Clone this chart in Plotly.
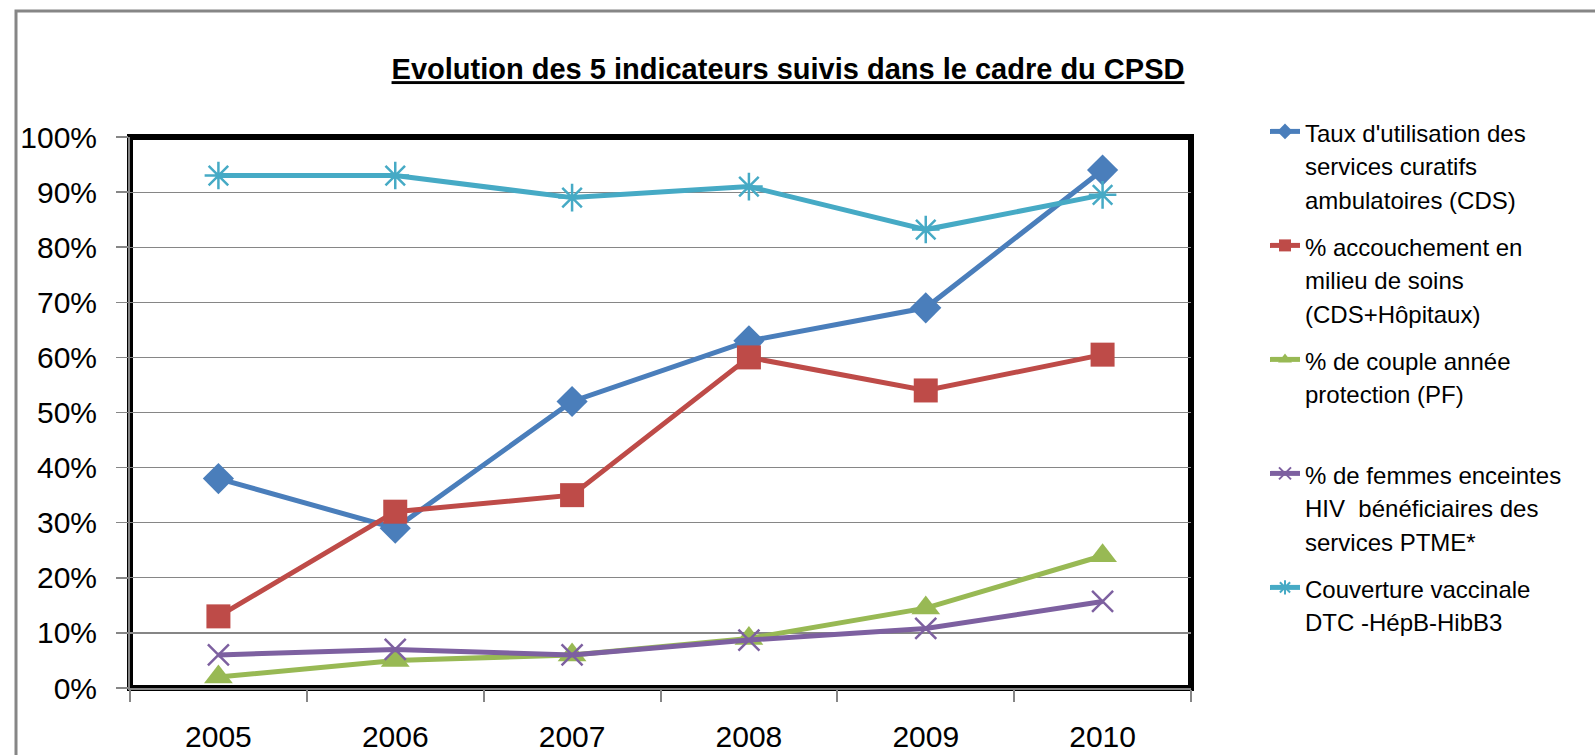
import plotly.graph_objects as go

# ---- data ----
years = ["2005", "2006", "2007", "2008", "2009", "2010"]
taux_utilisation = [0.38, 0.29, 0.52, 0.63, 0.69, 0.94]
accouchement = [0.13, 0.32, 0.35, 0.60, 0.54, 0.605]
couple_annee = [0.02, 0.05, 0.06, 0.09, 0.145, 0.24]
femmes_hiv = [0.06, 0.07, 0.06, 0.087, 0.108, 0.157]
couverture_vacc = [0.93, 0.93, 0.89, 0.91, 0.832, 0.895]

legend_lines = [
    ["Taux d'utilisation des", "services curatifs", "ambulatoires (CDS)"],
    ["% accouchement en", "milieu de soins", "(CDS+Hôpitaux)"],
    ["% de couple année", "protection (PF)"],
    ["% de femmes enceintes", "HIV  bénéficiaires des", "services PTME*"],
    ["Couverture vaccinale", "DTC -HépB-HibB3"],
]
title_text = "Evolution des 5 indicateurs suivis dans le cadre du CPSD"

# ---- layout geometry (pixels) ----
W, H = 1595, 755
PL, PR, PT, PB = 130, 1191, 137, 688
pw, ph = PR - PL, PB - PT


def px_x(x):
    return (x - PL) / pw


def px_y(y):
    return (PB - y) / ph


FONT_AX = "Liberation Sans, Arial, sans-serif"
FONT_LG = "Liberation Sans Narrow, Liberation Sans, Arial, sans-serif"

series = [
    (taux_utilisation, "#4A7EBB", "diamond", 24, 0),
    (accouchement, "#BE4B48", "square", 24, 0),
    (couple_annee, "#98B954", "triangle-up", 25, 0),
    (femmes_hiv, "#7D60A0", "x-thin-open", 21, 2.5),
    (couverture_vacc, "#46AAC5", "asterisk-open", 23, 2.5),
]

fig = go.Figure()
legend_ids = ["legend", "legend2", "legend3", "legend4", "legend5"]
for i, (vals, col, sym, size, mlw) in enumerate(series):
    name = "<br>".join(
        "<span style='font-size:24px'>%s</span>" % ln for ln in legend_lines[i]
    )
    marker = dict(symbol=sym, size=size, color=col)
    if mlw:
        marker["line"] = dict(width=mlw, color=col)
    else:
        marker["line"] = dict(width=0)
    fig.add_trace(
        go.Scatter(
            x=years,
            y=vals,
            mode="lines+markers",
            name=name,
            line=dict(color=col, width=5),
            marker=marker,
            legend=legend_ids[i],
            hoverinfo="skip",
        )
    )

first_line_centers = [129, 243, 357, 471, 585]
layout_legends = {}
for i, lid in enumerate(legend_ids):
    layout_legends[lid] = dict(
        x=px_x(1265),
        xanchor="left",
        y=px_y(first_line_centers[i] - 21),
        yanchor="top",
        valign="top",
        bgcolor="rgba(0,0,0,0)",
        borderwidth=0,
        font=dict(family=FONT_LG, size=26, color="#000000"),
        itemclick=False,
        itemsizing="constant",
    )

fig.update_layout(
    width=W,
    height=H,
    margin=dict(l=PL, r=W - PR, t=PT, b=H - PB, pad=0, autoexpand=False),
    paper_bgcolor="white",
    plot_bgcolor="white",
    showlegend=True,
    title=dict(
        text="<u>%s</u>" % title_text,
        x=px_x(788),
        xref="paper",
        xanchor="center",
        y=1 - 69 / H,
        yref="container",
        yanchor="middle",
        font=dict(family=FONT_LG, size=29, color="#000000", weight="bold"),
    ),
    xaxis=dict(
        type="category",
        range=[-0.5, 5.5],
        tickson="boundaries",
        ticks="outside",
        ticklen=12,
        tickwidth=2,
        tickcolor="#868686",
        showline=True,
        linecolor="#868686",
        linewidth=2,
        showgrid=False,
        zeroline=False,
        tickfont=dict(family=FONT_AX, size=30, color="#000000"),
        ticklabelstandoff=21,
        automargin=False,
        fixedrange=True,
    ),
    yaxis=dict(
        range=[0, 1],
        dtick=0.1,
        tick0=0,
        tickformat=".0%",
        ticks="outside",
        ticklen=12,
        tickwidth=1.5,
        tickcolor="#868686",
        showline=True,
        linecolor="#868686",
        linewidth=2,
        showgrid=True,
        gridcolor="#868686",
        gridwidth=1.2,
        zeroline=False,
        tickfont=dict(family=FONT_AX, size=30, color="#000000"),
        ticklabelstandoff=13,
        automargin=False,
        fixedrange=True,
    ),
    shapes=[
        dict(
            type="rect", xref="paper", yref="paper",
            x0=0, x1=1, y0=0, y1=1,
            line=dict(color="#000000", width=6),
            layer="below",
        ),
        dict(
            type="rect", xref="paper", yref="paper",
            x0=px_x(16), x1=px_x(1610), y0=px_y(770), y1=px_y(11),
            line=dict(color="#868686", width=3),
            layer="below",
        ),
    ],
    **layout_legends,
)

fig.write_html(
    "out.html",
    config={"displayModeBar": False, "staticPlot": True},
    post_script="document.body.style.margin='0';document.body.style.overflow='hidden';",
)
